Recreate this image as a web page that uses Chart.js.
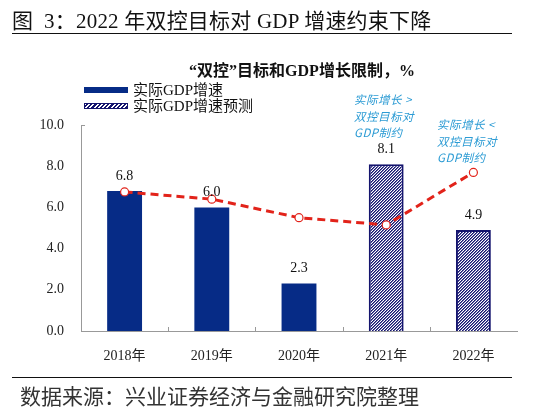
<!DOCTYPE html>
<html>
<head>
<meta charset="utf-8">
<script src="https://cdn.jsdelivr.net/npm/chart.js@4.4.1/dist/chart.umd.min.js"></script>
<style>
  html, body { margin:0; padding:0; background:#fff; }
  #wrap { position:relative; width:550px; height:410px; overflow:hidden; font-family:"Liberation Serif","Noto Sans CJK SC",serif; }
  #c { position:absolute; left:0; top:0; }
  .abs { position:absolute; white-space:nowrap; }
  #title { left:12px; top:4px; font-size:21px; color:#111; letter-spacing:0.2px; }
  #tline { left:12px; top:33px; width:500px; height:0; border-top:1.3px solid #111; }
  #sub { left:0; width:604px; text-align:center; top:57px; font-size:16px; font-weight:bold; color:#111; }
  .sw { position:absolute; width:44px; height:6px; }
  #sw1 { left:84px; top:87px; background:#062B86; }
  #sw2 { left:84px; top:103px; box-sizing:border-box; border:1.5px solid #14146e;
         background:repeating-linear-gradient(-45deg,#14146e 0 1.6px,#fff 1.6px 3px); }
  .lg { font-size:15px; color:#111; line-height:16px; }
  #lg1 { left:133px; top:82px; }
  #lg2 { left:133px; top:98px; }
  .ann { font-family:"Noto Sans CJK SC","Liberation Sans",sans-serif; font-style:italic; font-size:11.5px; color:#2B9BD4; line-height:16.5px; letter-spacing:0.5px; }
  #ann1 { left:354px; top:91px; }
  #ann2 { left:437px; top:116px; }
  #fline { left:12px; top:377px; width:500px; height:0; border-top:1.3px solid #111; }
  #foot { left:20px; top:380px; font-size:21px; color:#333; }
</style>
</head>
<body>
<div id="wrap">
  <canvas id="c" width="550" height="410"></canvas>
  <div class="abs" id="title">图&nbsp;&nbsp;3：2022 年双控目标对 GDP 增速约束下降</div>
  <div class="abs" id="tline"></div>
  <div class="abs" id="sub">“双控”目标和GDP增长限制，%</div>
  <div class="sw" id="sw1"></div>
  <div class="sw" id="sw2"></div>
  <div class="abs lg" id="lg1">实际GDP增速</div>
  <div class="abs lg" id="lg2">实际GDP增速预测</div>
  <div class="abs ann" id="ann1">实际增长 &gt;<br>双控目标对<br>GDP制约</div>
  <div class="abs ann" id="ann2">实际增长 &lt;<br>双控目标对<br>GDP制约</div>
  <div class="abs" id="fline"></div>
  <div class="abs" id="foot">数据来源：兴业证券经济与金融研究院整理</div>
</div>
<script>
const categories = ["2018年", "2019年", "2020年", "2021年", "2022年"];
const actualGDP = [6.8, 6.0, 2.3, null, null];
const forecastGDP = [null, null, null, 8.1, 4.9];
const targetLimit = [6.75, 6.4, 5.5, 5.15, 7.7];
const yTicks = [0, 2, 4, 6, 8, 10];

function makeHatch() {
  const n = 3;
  const p = document.createElement('canvas');
  p.width = n; p.height = n;
  const g = p.getContext('2d');
  for (let x = 0; x < n; x++) {
    for (let y = 0; y < n; y++) {
      const k = (x + y) % n;
      g.fillStyle = k === 0 ? '#14146e' : (k === 1 ? '#6a6aa8' : '#ffffff');
      g.fillRect(x, y, 1, 1);
    }
  }
  return document.getElementById('c').getContext('2d').createPattern(p, 'repeat');
}

const labelPlugin = {
  id: 'labels',
  afterDatasetsDraw(chart) {
    const ctx = chart.ctx;
    ctx.save();
    ctx.font = '14px "Liberation Serif"';
    ctx.fillStyle = '#111';
    ctx.textAlign = 'center';
    ctx.textBaseline = 'middle';
    [0, 1].forEach(di => {
      const meta = chart.getDatasetMeta(di);
      const data = chart.data.datasets[di].data;
      meta.data.forEach((el, i) => {
        if (data[i] == null) return;
        ctx.fillText(data[i].toFixed(1), el.x, el.y - 15);
      });
    });
    const xs = chart.scales.x, ys = chart.scales.y;
    ctx.strokeStyle = '#999';
    ctx.lineWidth = 1;
    const y0 = ys.getPixelForValue(0);
    for (let i = 1; i < categories.length; i++) {
      const x = Math.round((xs.getPixelForValue(i - 1) + xs.getPixelForValue(i)) / 2);
      ctx.beginPath();
      ctx.moveTo(x + 0.5, y0);
      ctx.lineTo(x + 0.5, y0 - 4);
      ctx.stroke();
    }
    const yt = Math.round(ys.getPixelForValue(10)) + 0.5;
    ctx.beginPath();
    ctx.moveTo(xs.left, yt);
    ctx.lineTo(xs.left + 4, yt);
    ctx.stroke();
    ctx.restore();
  }
};

new Chart(document.getElementById('c'), {
  type: 'bar',
  data: {
    labels: categories,
    datasets: [
      { label: '实际GDP增速', data: actualGDP, backgroundColor: '#062B86', borderWidth: 0,
        barPercentage: 0.4, categoryPercentage: 1.0, grouped: false, order: 2 },
      { label: '实际GDP增速预测', data: forecastGDP, backgroundColor: makeHatch(), borderColor: '#14146e', borderWidth: 2,
        barPercentage: 0.4, categoryPercentage: 1.0, grouped: false, order: 2 },
      { type: 'line', label: '双控目标', data: targetLimit, borderColor: '#E2231A', borderWidth: 3,
        borderDash: [8, 5], pointRadius: 4, pointBorderWidth: 1.2, pointBorderColor: '#E2231A',
        pointBackgroundColor: '#fff', tension: 0, fill: false, order: 1 }
    ]
  },
  options: {
    responsive: false,
    animation: false,
    devicePixelRatio: 1,
    layout: { padding: { left: 0, top: 125, right: 33, bottom: 0 } },
    plugins: { legend: { display: false }, tooltip: { enabled: false }, title: { display: false } },
    scales: {
      x: {
        grid: { display: false },
        border: { display: true, color: '#999', width: 1 },
        ticks: { color: '#222', font: { family: '"Liberation Serif","Noto Sans CJK SC"', size: 14 }, padding: 9 },
        afterFit(s) { s.height = 79; }
      },
      y: {
        min: 0, max: 10,
        afterBuildTicks(s) { s.ticks = yTicks.map(v => ({ value: v })); },
        grid: { display: false, drawTicks: false },
        border: { display: true, color: '#999', width: 1 },
        ticks: { color: '#222', font: { family: '"Liberation Serif"', size: 14 }, padding: 17,
                 callback: v => Number(v).toFixed(1) },
        afterFit(s) { s.width = 81; }
      }
    }
  },
  plugins: [labelPlugin]
});
</script>
</body>
</html>
